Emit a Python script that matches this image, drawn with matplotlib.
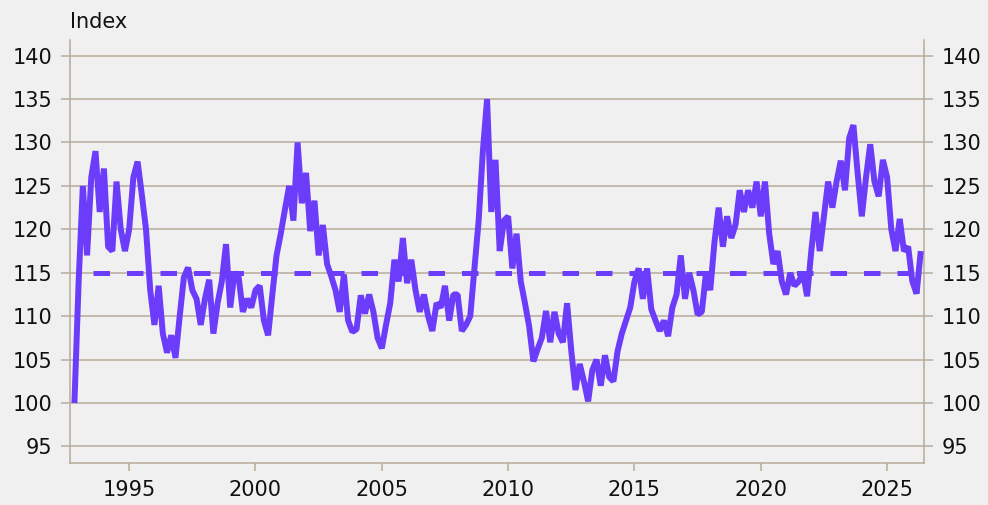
import pandas as pd
import matplotlib
matplotlib.use("Agg")
import matplotlib.pyplot as plt

# Index readings every two months, first one in Nov 1992
start = "1992-11-01"
vals_1990s = [
    100,
    114, 125, 117, 126, 129, 122,          # 1993
    127, 118, 117.5, 125.5, 120, 117.5,    # 1994
    120, 126, 127.8, 124, 120, 113,        # 1995
    109, 113.5, 108, 105.8, 107.8, 105.2,  # 1996
    110, 114.5, 115.6, 113, 112, 109,      # 1997
    112, 114.2, 108, 111.5, 114, 118.3,    # 1998
    111, 115, 114.5, 110.5, 112, 111,      # 1999
]
vals_2000s = [
    113, 113.5, 109.5, 107.8, 112.5, 117,      # 2000
    119.5, 122.3, 125, 121, 130, 123,          # 2001
    126.5, 119.8, 123.3, 117, 120.5, 116,      # 2002
    114.6, 113, 110.5, 114.8, 109.5, 108.2,    # 2003
    108.5, 112.4, 110.3, 112.5, 110.5, 107.5,  # 2004
    106.3, 109, 111.5, 116.5, 114, 119,        # 2005
    113.8, 116.5, 113, 110.5, 112.5, 110,      # 2006
    108.3, 111.5, 111, 113.5, 109.5, 112.5,    # 2007
    112.5, 108.3, 109, 110, 115.5, 121,        # 2008
    129, 135, 122, 128, 117.5, 121,            # 2009
]
vals_2010s = [
    121.5, 115.5, 119.5, 114, 111.5, 108.8,    # 2010
    104.8, 106.2, 107.5, 110.6, 107, 110.5,    # 2011
    108, 107, 111.5, 106, 101.5, 104.5,        # 2012
    102.5, 100.2, 103.8, 105, 102, 105.5,      # 2013
    103, 102.5, 106, 108, 109.5, 111,          # 2014
    114, 115.5, 112, 115.5, 110.8, 109.5,      # 2015
    108.3, 109.5, 107.7, 111, 112.5, 117,      # 2016
    112, 115, 113, 110.2, 110.5, 115,          # 2017
    113, 118.5, 122.5, 118, 121.5, 119,        # 2018
    120.5, 124.5, 122, 124.5, 122.5, 125.5,    # 2019
]
vals_2020s = [
    121.5, 125.5, 119.5, 116, 117.5, 114,      # 2020
    112.5, 115, 113.5, 114, 115, 112.3,        # 2021
    117.5, 122, 117.5, 121.5, 125.5, 122.5,    # 2022
    125.5, 127.9, 124.5, 130.5, 132, 126.5,    # 2023
    121.5, 126, 129.8, 125.5, 123.8, 128,      # 2024
    126, 120, 117.5, 121.2, 117.5, 118,        # 2025
    114, 112.6, 117.5,                         # 2026
]
average_level = 115
year_ticks = [1995, 2000, 2005, 2010, 2015, 2020, 2025]
y_ticks = [95, 100, 105, 110, 115, 120, 125, 130, 135, 140]

values = vals_1990s + vals_2000s + vals_2010s + vals_2020s
dates = pd.date_range(start, periods=len(values), freq="2MS")
years = dates.year + (dates.month - 1) / 12

purple = "#6B3CF9"
tan = "#b8aa9b"
bg = "#f0f0f0"

plt.rcParams["font.family"] = ["DejaVu Sans"]

fig = plt.figure(figsize=(9.88, 5.05), dpi=100, facecolor=bg)
ax = fig.add_axes([0.0709, 0.0832, 0.8643, 0.8376], facecolor=bg)

# long-run average as a dashed level
ax.plot([1993.57, 2026.3], [average_level, average_level], color=purple,
        lw=3.6, linestyle=(0, (3.3, 3.4)), dash_capstyle="butt", zorder=2)
ax.plot(years, values, color=purple, lw=4.3, solid_joinstyle="bevel",
        solid_capstyle="butt", zorder=3)

ax.set_xlim(1992.66, 2026.46)
ax.set_ylim(93.1, 141.8)
ax.set_xticks(year_ticks)
ax.set_yticks(y_ticks)
ax.grid(axis="y", color=tan, lw=1.1)
ax.set_axisbelow(True)

ax.spines["top"].set_visible(False)
for side in ["left", "right", "bottom"]:
    ax.spines[side].set_color(tan)
    ax.spines[side].set_linewidth(1.1)

ax.tick_params(axis="y", which="both", left=True, right=True,
               labelleft=True, labelright=True, length=6.5, width=1.1,
               color=tan, labelsize=15, pad=6, labelcolor="#111111")
ax.tick_params(axis="x", length=5.5, width=1.1, color=tan, labelsize=15,
               pad=7, labelcolor="#111111")

fig.text(0.071, 0.9446, "Index", fontsize=15, color="#111111", va="baseline")

fig.savefig("out.png", dpi=100, facecolor=bg)
